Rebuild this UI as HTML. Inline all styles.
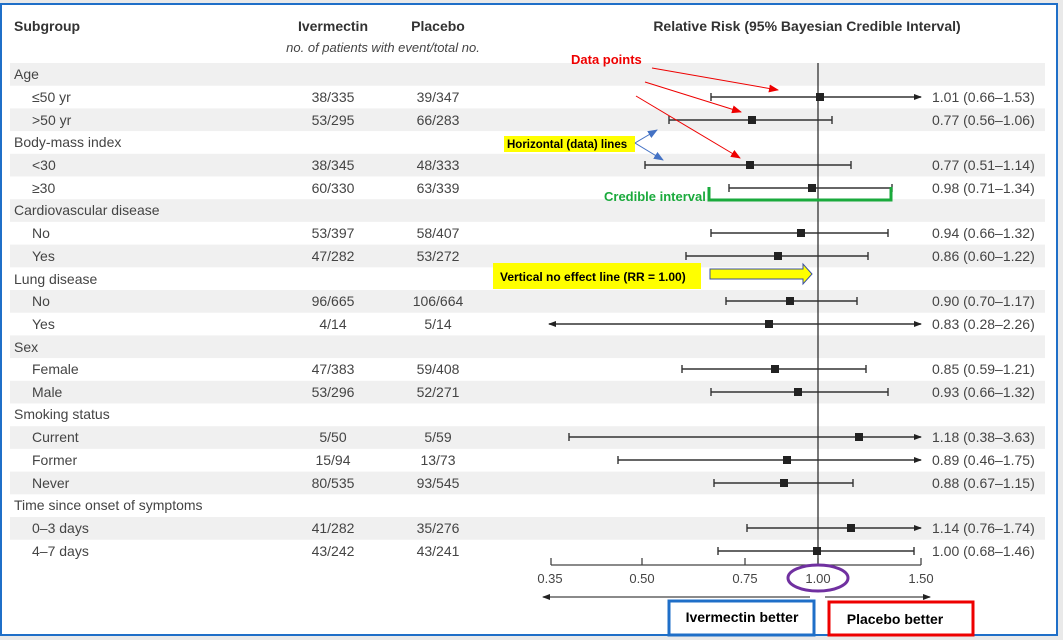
<!DOCTYPE html>
<html><head><meta charset="utf-8"><style>
html,body{margin:0;padding:0;background:#e9e9e9;}
svg{display:block;font-family:"Liberation Sans",sans-serif;}
</style></head><body>
<svg width="1063" height="640" viewBox="0 0 1063 640" xmlns="http://www.w3.org/2000/svg">
<defs>
<marker id="ar" markerWidth="8" markerHeight="8" refX="7" refY="4" orient="auto" markerUnits="userSpaceOnUse"><path d="M0,1 L8,4 L0,7 Z" fill="#222"/></marker>
<marker id="rr" markerWidth="10" markerHeight="8" refX="9" refY="4" orient="auto" markerUnits="userSpaceOnUse"><path d="M0,0 L10,4 L0,8 Z" fill="#e00"/></marker>
<marker id="br" markerWidth="10" markerHeight="8" refX="9" refY="4" orient="auto" markerUnits="userSpaceOnUse"><path d="M0,0 L10,4 L0,8 Z" fill="#4472c4"/></marker>
</defs>
<rect x="0" y="0" width="1063" height="640" fill="#e9e9e9"/>
<rect x="1" y="4" width="1056" height="631" fill="#fff" stroke="#1f6fc8" stroke-width="2"/>
<g fill="#f0f0f0">
<rect x="10" y="63" width="1035" height="22.7"/>
<rect x="10" y="108.4" width="1035" height="22.7"/>
<rect x="10" y="153.8" width="1035" height="22.7"/>
<rect x="10" y="199.2" width="1035" height="22.7"/>
<rect x="10" y="244.6" width="1035" height="22.7"/>
<rect x="10" y="290" width="1035" height="22.7"/>
<rect x="10" y="335.4" width="1035" height="22.7"/>
<rect x="10" y="380.8" width="1035" height="22.7"/>
<rect x="10" y="426.2" width="1035" height="22.7"/>
<rect x="10" y="471.6" width="1035" height="22.7"/>
<rect x="10" y="517" width="1035" height="22.7"/>
</g>
<g font-size="14" fill="#333" font-weight="bold">
<text x="14" y="31">Subgroup</text>
<text x="333" y="31" text-anchor="middle">Ivermectin</text>
<text x="438" y="31" text-anchor="middle">Placebo</text>
<text x="807" y="31" text-anchor="middle">Relative Risk (95% Bayesian Credible Interval)</text>
</g>
<text x="383" y="52" font-size="13" font-style="italic" fill="#444" text-anchor="middle">no. of patients with event/total no.</text>
<g font-size="14" fill="#444">
<text x="14" y="79">Age</text>
<text x="32" y="102">≤50 yr</text><text x="333" y="102" text-anchor="middle">38/335</text><text x="438" y="102" text-anchor="middle">39/347</text>
<text x="32" y="125">&gt;50 yr</text><text x="333" y="125" text-anchor="middle">53/295</text><text x="438" y="125" text-anchor="middle">66/283</text>
<text x="14" y="147">Body-mass index</text>
<text x="32" y="170">&lt;30</text><text x="333" y="170" text-anchor="middle">38/345</text><text x="438" y="170" text-anchor="middle">48/333</text>
<text x="32" y="193">≥30</text><text x="333" y="193" text-anchor="middle">60/330</text><text x="438" y="193" text-anchor="middle">63/339</text>
<text x="14" y="215">Cardiovascular disease</text>
<text x="32" y="238">No</text><text x="333" y="238" text-anchor="middle">53/397</text><text x="438" y="238" text-anchor="middle">58/407</text>
<text x="32" y="261">Yes</text><text x="333" y="261" text-anchor="middle">47/282</text><text x="438" y="261" text-anchor="middle">53/272</text>
<text x="14" y="284">Lung disease</text>
<text x="32" y="306">No</text><text x="333" y="306" text-anchor="middle">96/665</text><text x="438" y="306" text-anchor="middle">106/664</text>
<text x="32" y="329">Yes</text><text x="333" y="329" text-anchor="middle">4/14</text><text x="438" y="329" text-anchor="middle">5/14</text>
<text x="14" y="352">Sex</text>
<text x="32" y="374">Female</text><text x="333" y="374" text-anchor="middle">47/383</text><text x="438" y="374" text-anchor="middle">59/408</text>
<text x="32" y="397">Male</text><text x="333" y="397" text-anchor="middle">53/296</text><text x="438" y="397" text-anchor="middle">52/271</text>
<text x="14" y="419">Smoking status</text>
<text x="32" y="442">Current</text><text x="333" y="442" text-anchor="middle">5/50</text><text x="438" y="442" text-anchor="middle">5/59</text>
<text x="32" y="465">Former</text><text x="333" y="465" text-anchor="middle">15/94</text><text x="438" y="465" text-anchor="middle">13/73</text>
<text x="32" y="488">Never</text><text x="333" y="488" text-anchor="middle">80/535</text><text x="438" y="488" text-anchor="middle">93/545</text>
<text x="14" y="510">Time since onset of symptoms</text>
<text x="32" y="533">0–3 days</text><text x="333" y="533" text-anchor="middle">41/282</text><text x="438" y="533" text-anchor="middle">35/276</text>
<text x="32" y="556">4–7 days</text><text x="333" y="556" text-anchor="middle">43/242</text><text x="438" y="556" text-anchor="middle">43/241</text>
</g>
<g font-size="14" fill="#444">
<text x="932" y="102">1.01 (0.66–1.53)</text>
<text x="932" y="125">0.77 (0.56–1.06)</text>
<text x="932" y="170">0.77 (0.51–1.14)</text>
<text x="932" y="193">0.98 (0.71–1.34)</text>
<text x="932" y="238">0.94 (0.66–1.32)</text>
<text x="932" y="261">0.86 (0.60–1.22)</text>
<text x="932" y="306">0.90 (0.70–1.17)</text>
<text x="932" y="329">0.83 (0.28–2.26)</text>
<text x="932" y="374">0.85 (0.59–1.21)</text>
<text x="932" y="397">0.93 (0.66–1.32)</text>
<text x="932" y="442">1.18 (0.38–3.63)</text>
<text x="932" y="465">0.89 (0.46–1.75)</text>
<text x="932" y="488">0.88 (0.67–1.15)</text>
<text x="932" y="533">1.14 (0.76–1.74)</text>
<text x="932" y="556">1.00 (0.68–1.46)</text>
</g>
<line x1="818" y1="63" x2="818" y2="566" stroke="#333" stroke-width="1.3"/>
<g stroke="#333" stroke-width="1.4">
<line x1="711" y1="97" x2="921" y2="97" marker-end="url(#ar)"/><line x1="711" y1="93" x2="711" y2="101"/>
<line x1="669" y1="120" x2="832" y2="120"/><line x1="669" y1="116" x2="669" y2="124"/><line x1="832" y1="116" x2="832" y2="124"/>
<line x1="645" y1="165" x2="851" y2="165"/><line x1="645" y1="161" x2="645" y2="169"/><line x1="851" y1="161" x2="851" y2="169"/>
<line x1="729" y1="188" x2="892" y2="188"/><line x1="729" y1="184" x2="729" y2="192"/><line x1="892" y1="184" x2="892" y2="192"/>
<line x1="711" y1="233" x2="888" y2="233"/><line x1="711" y1="229" x2="711" y2="237"/><line x1="888" y1="229" x2="888" y2="237"/>
<line x1="686" y1="256" x2="868" y2="256"/><line x1="686" y1="252" x2="686" y2="260"/><line x1="868" y1="252" x2="868" y2="260"/>
<line x1="726" y1="301" x2="857" y2="301"/><line x1="726" y1="297" x2="726" y2="305"/><line x1="857" y1="297" x2="857" y2="305"/>
<line x1="769" y1="324" x2="921" y2="324" marker-end="url(#ar)"/><line x1="769" y1="324" x2="549" y2="324" marker-end="url(#ar)"/>
<line x1="682" y1="369" x2="866" y2="369"/><line x1="682" y1="365" x2="682" y2="373"/><line x1="866" y1="365" x2="866" y2="373"/>
<line x1="711" y1="392" x2="888" y2="392"/><line x1="711" y1="388" x2="711" y2="396"/><line x1="888" y1="388" x2="888" y2="396"/>
<line x1="569" y1="437" x2="921" y2="437" marker-end="url(#ar)"/><line x1="569" y1="433" x2="569" y2="441"/>
<line x1="618" y1="460" x2="921" y2="460" marker-end="url(#ar)"/><line x1="618" y1="456" x2="618" y2="464"/>
<line x1="714" y1="483" x2="853" y2="483"/><line x1="714" y1="479" x2="714" y2="487"/><line x1="853" y1="479" x2="853" y2="487"/>
<line x1="747" y1="528" x2="921" y2="528" marker-end="url(#ar)"/><line x1="747" y1="524" x2="747" y2="532"/>
<line x1="718" y1="551" x2="914" y2="551"/><line x1="718" y1="547" x2="718" y2="555"/><line x1="914" y1="547" x2="914" y2="555"/>
</g>
<g fill="#222">
<rect x="816" y="93" width="8" height="8"/><rect x="748" y="116" width="8" height="8"/>
<rect x="746" y="161" width="8" height="8"/><rect x="808" y="184" width="8" height="8"/>
<rect x="797" y="229" width="8" height="8"/><rect x="774" y="252" width="8" height="8"/>
<rect x="786" y="297" width="8" height="8"/><rect x="765" y="320" width="8" height="8"/>
<rect x="771" y="365" width="8" height="8"/><rect x="794" y="388" width="8" height="8"/>
<rect x="855" y="433" width="8" height="8"/><rect x="783" y="456" width="8" height="8"/>
<rect x="780" y="479" width="8" height="8"/><rect x="847" y="524" width="8" height="8"/>
<rect x="813" y="547" width="8" height="8"/>
</g>
<g stroke="#444" stroke-width="1.3">
<line x1="551" y1="565" x2="921" y2="565"/>
<line x1="551" y1="558" x2="551" y2="565"/><line x1="642" y1="558" x2="642" y2="565"/>
<line x1="745" y1="558" x2="745" y2="565"/><line x1="818" y1="558" x2="818" y2="565"/>
<line x1="921" y1="558" x2="921" y2="565"/>
<line x1="810" y1="597" x2="543" y2="597" marker-end="url(#ar)"/>
<line x1="825" y1="597" x2="930" y2="597" marker-end="url(#ar)"/>
</g>
<g font-size="13" fill="#444" text-anchor="middle">
<text x="550" y="583">0.35</text><text x="642" y="583">0.50</text><text x="745" y="583">0.75</text>
<text x="818" y="583">1.00</text><text x="921" y="583">1.50</text>
</g>
<ellipse cx="818" cy="578" rx="30" ry="13" fill="none" stroke="#7030a0" stroke-width="3"/>
<rect x="669" y="601" width="145" height="34" fill="#fff" stroke="#1f6fc8" stroke-width="3"/>
<text x="742" y="622" font-size="14" font-weight="bold" text-anchor="middle" fill="#000">Ivermectin better</text>
<rect x="829" y="602" width="144" height="33" fill="#fff" stroke="#e00" stroke-width="3"/>
<text x="895" y="624" font-size="14" font-weight="bold" text-anchor="middle" fill="#000">Placebo better</text>
<text x="571" y="64" font-size="13" font-weight="bold" fill="#e00">Data points</text>
<g stroke="#e00" stroke-width="1">
<line x1="652" y1="68" x2="778" y2="90" marker-end="url(#rr)"/>
<line x1="645" y1="82" x2="741" y2="112" marker-end="url(#rr)"/>
<line x1="636" y1="96" x2="740" y2="158" marker-end="url(#rr)"/>
</g>
<rect x="504" y="136" width="131" height="16" fill="#ffff00"/>
<text x="507" y="148" font-size="11.5" font-weight="bold" fill="#000">Horizontal (data) lines</text>
<g stroke="#4472c4" stroke-width="1">
<line x1="635" y1="143" x2="657" y2="130" marker-end="url(#br)"/>
<line x1="635" y1="143" x2="663" y2="160" marker-end="url(#br)"/>
</g>
<text x="604" y="201" font-size="13" font-weight="bold" fill="#1aaa3c">Credible interval</text>
<path d="M709,187 V200 H891 V187" fill="none" stroke="#1aaa3c" stroke-width="3"/>
<rect x="493" y="263" width="208" height="26" fill="#ffff00"/>
<text x="500" y="281" font-size="12" font-weight="bold" fill="#000">Vertical no effect line (RR = 1.00)</text>
<path d="M710,269 H803 V264 L812,274 L803,284 V279 H710 Z" fill="#ffff00" stroke="#3a4fa0" stroke-width="1"/>
</svg>
</body></html>
